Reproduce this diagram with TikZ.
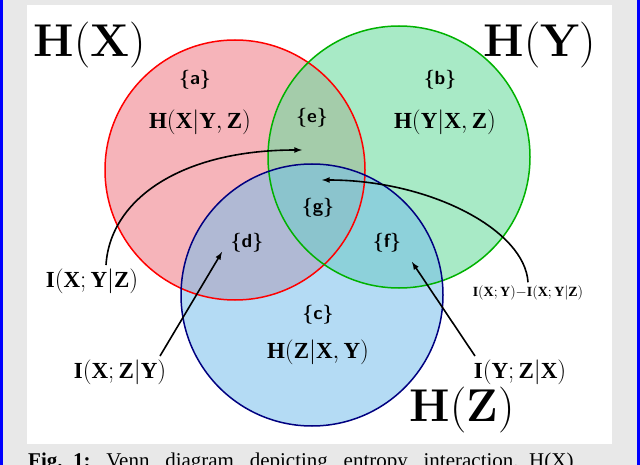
\documentclass[tikz,border=0pt]{standalone}
\usepackage{fontspec}
\setmainfont{Liberation Serif}
\newfontfamily\lmr{Latin Modern Roman}
\usepackage{amsmath}
\definecolor{gfill}{RGB}{110,220,160}
\definecolor{rfill}{RGB}{240,130,140}
\definecolor{bfill}{RGB}{120,190,235}
\begin{document}
\begin{tikzpicture}[x=1pt,y=-1pt,
  big/.style={font=\fontsize{46}{48}\selectfont\lmr},
  lab/.style={font=\fontsize{19}{21}\selectfont\bfseries\sffamily},
  mlab/.style={font=\fontsize{23}{25}\selectfont},
  arr/.style={-latex,line width=1.6pt}]
\useasboundingbox (0,0) rectangle (640,465);
\fill[blue] (0,0) rectangle (640,465);
\fill[gray!18] (3,0) rectangle (637,465);
\fill[white] (27,5) rectangle (612,444);
\begin{scope}[line width=1.5pt]
\fill[rfill,fill opacity=0.6] (235,170) circle (130);
\fill[gfill,fill opacity=0.6] (399,157) circle (131);
\fill[bfill,fill opacity=0.55] (312,295) circle (131);
\draw[red] (235,170) circle (130);
\draw[green!70!black] (399,157) circle (131);
\draw[blue!50!black] (312,295) circle (131);
\end{scope}
\node[big] (hx) at (90,45) {\textbf{H}(\textbf{X})};
\node[big] (hy) at (540,45) {\textbf{H}(\textbf{Y})};
\node[big] (hz) at (462,410) {\textbf{H}(\textbf{Z})};
\node[lab] (a) at (195,80) {\{a\}};
\node[mlab] (ha) at (200,122) {$\mathbf{H}(\mathbf{X}|\mathbf{Y},\mathbf{Z})$};
\node[lab] (b) at (440,80) {\{b\}};
\node[mlab] (hb) at (445,122) {$\mathbf{H}(\mathbf{Y}|\mathbf{X},\mathbf{Z})$};
\node[lab] (e) at (312,118) {\{e\}};
\node[lab] (g) at (318,208) {\{g\}};
\node[lab] (d) at (247,243) {\{d\}};
\node[lab] (f) at (387,243) {\{f\}};
\node[lab] (c) at (318,315) {\{c\}};
\node[mlab] (hc) at (318,352) {$\mathbf{H}(\mathbf{Z}|\mathbf{X},\mathbf{Y})$};
\node[mlab] (i1) at (92,281) {$\mathbf{I}(\mathbf{X};\mathbf{Y}|\mathbf{Z})$};
\node[mlab] (i2) at (120,372) {$\mathbf{I}(\mathbf{X};\mathbf{Z}|\mathbf{Y})$};
\node[mlab] (i3) at (520,372) {$\mathbf{I}(\mathbf{Y};\mathbf{Z}|\mathbf{X})$};
\node[font=\fontsize{14}{16}\selectfont] (i4) at (528,293) {$\mathbf{I}(\mathbf{X};\mathbf{Y}){-}\mathbf{I}(\mathbf{X};\mathbf{Y}|\mathbf{Z})$};
\coordinate (te) at (302,150);
\coordinate (tg) at (322,180);
\coordinate (td) at (222,252);
\coordinate (tf) at (412,262);
\draw[arr] (i1.north) ++(14,0) .. controls (110,200) and (180,150) .. (te);
\draw[arr] (i2.north) ++(40,0) -- (td);
\draw[arr] (i3.north) ++(-45,0) -- (tf);
\draw[arr] (i4.north) ++(0,0) .. controls (525,230) and (430,180) .. (tg);
\node[anchor=west,font=\fontsize{21}{23}\selectfont,inner sep=0] (cap) at (28,463) {\textbf{Fig.\ \ 1:}\ \ \ Venn\ \ \ diagram\ \ \ depicting\ \ \ entropy\ \ \ interaction.\ \ H(X)};
\end{tikzpicture}
\end{document}
